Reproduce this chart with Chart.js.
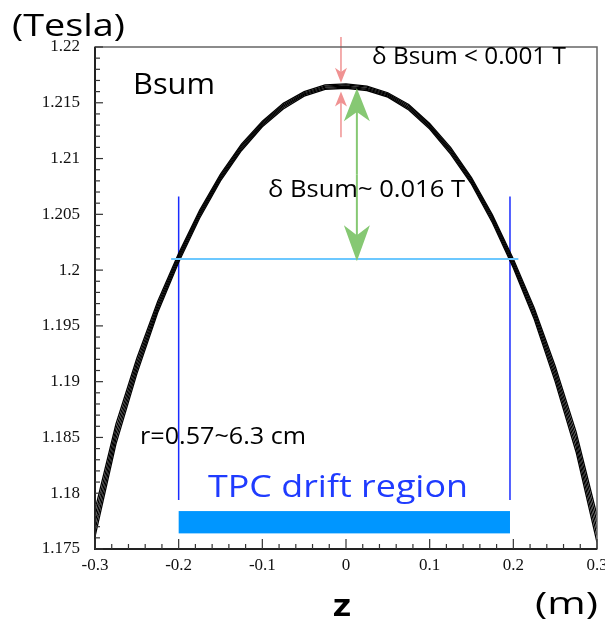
<!DOCTYPE html>
<html>
<head>
<meta charset="utf-8">
<script src="https://cdn.jsdelivr.net/npm/chart.js@4.4.1/dist/chart.umd.min.js"></script>
<style>
  html, body { margin: 0; padding: 0; background: #fff; }
  #wrap { width: 605px; height: 626px; }
</style>
</head>
<body>
<div id="wrap"><canvas id="bsumChart" width="605" height="626"></canvas></div>
<script>
// z positions along the axis (m)
const zValues = [-0.3, -0.275, -0.25, -0.225, -0.2, -0.175, -0.15, -0.125, -0.1, -0.075, -0.05, -0.025,
  0, 0.025, 0.05, 0.075, 0.1, 0.125, 0.15, 0.175, 0.2, 0.225, 0.25, 0.275, 0.3];

// Bsum (T) for radii between 0.57 and 6.3 cm
const bsumR1 = [1.1785, 1.1862, 1.1921, 1.1972, 1.2015, 1.20535, 1.2086, 1.2113, 1.21335, 1.21495, 1.2160, 1.2166,
  1.2167, 1.2165, 1.2159, 1.21485, 1.21315, 1.2110, 1.2083, 1.20495, 1.2010, 1.1966, 1.1914, 1.1855, 1.1780];
const bsumR2 = [1.1779, 1.18575, 1.19175, 1.19695, 1.2013, 1.20518, 1.20845, 1.21115, 1.21323, 1.21483, 1.2159, 1.2165,
  1.2166, 1.2164, 1.2158, 1.21473, 1.21303, 1.21085, 1.20815, 1.20478, 1.2008, 1.19635, 1.19105, 1.18505, 1.1774];
const bsumR3 = [1.1773, 1.1853, 1.1914, 1.1967, 1.2011, 1.2050, 1.2083, 1.2110, 1.2131, 1.2147, 1.2158, 1.2164,
  1.2165, 1.2163, 1.2157, 1.2146, 1.2129, 1.2107, 1.2080, 1.2046, 1.2006, 1.1961, 1.1907, 1.1846, 1.1768];
const bsumR4 = [1.1767, 1.18485, 1.19105, 1.19645, 1.2009, 1.20483, 1.20815, 1.21085, 1.21298, 1.21458, 1.2157, 1.2163,
  1.2164, 1.2162, 1.2156, 1.21448, 1.21278, 1.21055, 1.20785, 1.20443, 1.2004, 1.19585, 1.19035, 1.18415, 1.1762];
const bsumR5 = [1.1761, 1.1844, 1.1907, 1.1962, 1.2007, 1.20465, 1.2080, 1.2107, 1.21285, 1.21445, 1.2156, 1.2162,
  1.2163, 1.2161, 1.2155, 1.21435, 1.21265, 1.2104, 1.2077, 1.20425, 1.2002, 1.1956, 1.1900, 1.1837, 1.1756];
const bsumSeries = [bsumR1, bsumR2, bsumR3, bsumR4, bsumR5];

// axis ticks
const xTickValues = [-0.3, -0.2, -0.1, 0, 0.1, 0.2, 0.3];
const xTickLabels = ['-0.3', '-0.2', '-0.1', '0', '0.1', '0.2', '0.3'];
const yTickValues = [1.175, 1.18, 1.185, 1.19, 1.195, 1.2, 1.205, 1.21, 1.215, 1.22];
const yTickLabels = ['1.175', '1.18', '1.185', '1.19', '1.195', '1.2', '1.205', '1.21', '1.215', '1.22'];

// TPC drift region and the reference levels
const driftZ = [-0.2, 0.196];
const driftBar = [1.1764, 1.1784];
const driftLines = [1.1794, 1.2066];
const bsumLevel = [-0.209, 0.206, 1.2010];
const bigArrow = [0.013, 1.2163, 1.2008];
const smallArrow = [-0.006, 1.2209, 1.2168, 1.2160, 1.2119];

const handFont = '"Open Sans", "Noto Sans", sans-serif';

function drawArrow(ctx, x, yTail, yTip, len, half, color, width) {
  const dir = yTip > yTail ? -1 : 1;
  ctx.strokeStyle = color;
  ctx.fillStyle = color;
  ctx.lineWidth = width;
  ctx.beginPath();
  ctx.moveTo(x, yTail);
  ctx.lineTo(x, yTip + dir * len * 0.6);
  ctx.stroke();
  ctx.beginPath();
  ctx.moveTo(x, yTip);
  ctx.lineTo(x - half, yTip + dir * len);
  ctx.lineTo(x, yTip + dir * len * 0.72);
  ctx.lineTo(x + half, yTip + dir * len);
  ctx.closePath();
  ctx.fill();
}

// text stretched sideways to span a given width
function fitText(ctx, text, x, y, font, width) {
  ctx.font = font;
  const w = ctx.measureText(text).width;
  ctx.save();
  ctx.translate(x, y);
  ctx.scale(width / w, 1);
  ctx.fillText(text, 0, 0);
  ctx.restore();
}

const frameAndMarks = {
  id: 'frameAndMarks',
  beforeDatasetsDraw(chart) {
    const { ctx, scales: { x, y } } = chart;
    ctx.save();
    // drift region bar
    ctx.fillStyle = '#0096ff';
    const bx0 = x.getPixelForValue(driftZ[0]), bx1 = x.getPixelForValue(driftZ[1]);
    const by0 = y.getPixelForValue(driftBar[1]), by1 = y.getPixelForValue(driftBar[0]);
    ctx.fillRect(bx0, by0, bx1 - bx0, by1 - by0);
    // vertical drift boundaries
    ctx.strokeStyle = '#1a2cff';
    ctx.lineWidth = 1.5;
    driftZ.forEach(z => {
      const px = x.getPixelForValue(z);
      ctx.beginPath();
      ctx.moveTo(px, y.getPixelForValue(driftLines[0]));
      ctx.lineTo(px, y.getPixelForValue(driftLines[1]));
      ctx.stroke();
    });
    ctx.restore();
  },
  afterDatasetsDraw(chart) {
    const { ctx, chartArea: a, scales: { x, y } } = chart;
    ctx.save();
    // level of Bsum at the drift region edge
    ctx.strokeStyle = '#6cc8ff';
    ctx.lineWidth = 2;
    const ly = y.getPixelForValue(bsumLevel[2]);
    ctx.beginPath();
    ctx.moveTo(x.getPixelForValue(bsumLevel[0]), ly);
    ctx.lineTo(x.getPixelForValue(bsumLevel[1]), ly);
    ctx.stroke();

    // green double arrow for the full variation
    const gx = x.getPixelForValue(bigArrow[0]);
    const gTop = y.getPixelForValue(bigArrow[1]), gBot = y.getPixelForValue(bigArrow[2]);
    const gMid = (gTop + gBot) / 2;
    drawArrow(ctx, gx, gMid, gTop, 33, 13, '#86c873', 2);
    drawArrow(ctx, gx, gMid, gBot, 36, 13, '#86c873', 2);

    // pink arrows for the radial spread
    const px = x.getPixelForValue(smallArrow[0]);
    drawArrow(ctx, px, y.getPixelForValue(smallArrow[1]), y.getPixelForValue(smallArrow[2]), 15, 6, '#f09292', 1.5);
    drawArrow(ctx, px, y.getPixelForValue(smallArrow[4]), y.getPixelForValue(smallArrow[3]), 15, 6, '#f09292', 1.5);

    // frame
    ctx.strokeStyle = '#666';
    ctx.lineWidth = 1.5;
    ctx.strokeRect(a.left, a.top, a.right - a.left, a.bottom - a.top);
    ctx.strokeStyle = '#222';
    ctx.lineWidth = 2;
    ctx.beginPath();
    ctx.moveTo(a.left, a.top);
    ctx.lineTo(a.left, a.bottom);
    ctx.lineTo(a.right, a.bottom);
    ctx.stroke();

    // inward ticks
    ctx.lineWidth = 1.2;
    ctx.strokeStyle = '#333';
    for (let k = 0; k <= 45; k++) {
      const py = y.getPixelForValue(1.175 + k * 0.001);
      const len = k % 5 === 0 ? 8 : 5;
      ctx.beginPath();
      ctx.moveTo(a.left, py);
      ctx.lineTo(a.left + len, py);
      ctx.stroke();
    }
    for (let k = 0; k <= 30; k++) {
      const pxx = x.getPixelForValue(-0.3 + k * 0.02);
      const len = k % 5 === 0 ? 10 : 5;
      ctx.beginPath();
      ctx.moveTo(pxx, a.bottom);
      ctx.lineTo(pxx, a.bottom - len);
      ctx.stroke();
    }

    // texts
    ctx.textBaseline = 'middle';
    ctx.textAlign = 'left';
    ctx.fillStyle = '#000';
    fitText(ctx, '(Tesla)', 12, 27, '31px ' + handFont, 113);
    fitText(ctx, 'Bsum', 133, 85, '30px ' + handFont, 82);
    fitText(ctx, '\u03b4 Bsum < 0.001 T', 372, 57, '23px ' + handFont, 194);
    fitText(ctx, '\u03b4 Bsum~ 0.016 T', 268, 190, '23px ' + handFont, 197);
    fitText(ctx, 'r=0.57~6.3 cm', 140, 437, '23px ' + handFont, 166);
    ctx.fillStyle = '#1f3bff';
    fitText(ctx, 'TPC drift region', 208, 488, '31px ' + handFont, 260);
    ctx.fillStyle = '#000';
    fitText(ctx, 'z', 333, 607, 'bold 31px ' + handFont, 18);
    fitText(ctx, '(m)', 535, 605, '31px ' + handFont, 63);
    ctx.restore();
  }
};

const datasets = bsumSeries.map((vals, i) => ({
  label: 'r' + (i + 1),
  data: zValues.map((z, j) => ({ x: z, y: vals[j] })),
  borderColor: '#000',
  borderWidth: 1.3,
  pointRadius: 0,
  showLine: true,
  tension: 0,
  fill: false
}));

new Chart(document.getElementById('bsumChart').getContext('2d'), {
  type: 'scatter',
  data: { datasets },
  options: {
    responsive: false,
    animation: false,
    layout: { autoPadding: false, padding: { top: 47, right: 8, left: 0, bottom: 0 } },
    plugins: { legend: { display: false }, tooltip: { enabled: false } },
    scales: {
      x: {
        type: 'linear',
        min: -0.3,
        max: 0.3,
        afterFit: s => { s.height = 77; s.paddingLeft = 0; s.paddingRight = 0; },
        afterBuildTicks: s => { s.ticks = xTickValues.map(v => ({ value: v })); },
        grid: { display: false, drawTicks: false },
        border: { display: false },
        ticks: {
          padding: 6,
          color: '#111',
          maxRotation: 0,
          font: { family: '"Liberation Serif", serif', size: 17 },
          callback: v => xTickLabels[xTickValues.findIndex(t => Math.abs(t - v) < 1e-6)]
        }
      },
      y: {
        type: 'linear',
        min: 1.175,
        max: 1.22,
        afterFit: s => { s.width = 95; s.paddingTop = 0; s.paddingBottom = 0; },
        afterBuildTicks: s => { s.ticks = yTickValues.map(v => ({ value: v })); },
        grid: { display: false, drawTicks: false },
        border: { display: false },
        ticks: {
          padding: 15,
          color: '#111',
          font: { family: '"Liberation Serif", serif', size: 17 },
          callback: v => yTickLabels[yTickValues.findIndex(t => Math.abs(t - v) < 1e-6)]
        }
      }
    }
  },
  plugins: [frameAndMarks]
});
</script>
</body>
</html>
